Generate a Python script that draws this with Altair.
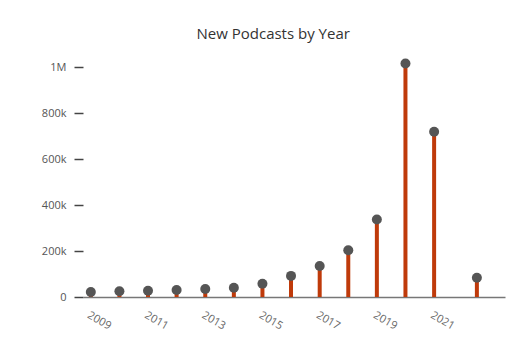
import altair as alt
import pandas as pd

dates = ["2009-01-01", "2010-01-01", "2011-01-01", "2012-01-01", "2013-01-01",
         "2014-01-01", "2015-01-01", "2016-01-01", "2017-01-01", "2018-01-01",
         "2019-01-01", "2020-01-01", "2021-01-01", "2022-07-01"]
new_podcasts = [22000, 25000, 27500, 30600, 35000, 40600, 58000, 92000,
                135000, 204000, 338000, 1017000, 720000, 84000]
y_ticks = [0, 200000, 400000, 600000, 800000, 1000000]
x_ticks = ["2009-01-01", "2011-01-01", "2013-01-01", "2015-01-01",
           "2017-01-01", "2019-01-01", "2021-01-01"]

df = pd.DataFrame({"date": dates, "count": new_podcasts})

FONT = "Open Sans"

x_tick_vals = [alt.DateTime(year=int(d[:4]), month=1, date=1) for d in x_ticks]

x = alt.X("date:T", title=None,
          scale=alt.Scale(domain=["2008-09-23", "2023-06-25"], nice=False),
          axis=alt.Axis(format="%Y", values=x_tick_vals,
                        labelAngle=30, labelAlign="left", labelBaseline="top",
                        ticks=False, labelPadding=12, labelColor="#666",
                        labelFontSize=11, labelFont=FONT, grid=False,
                        domainColor="#777", domainWidth=1.5))
y = alt.Y("count:Q", title=None,
          scale=alt.Scale(domain=[0, 1050000], nice=False),
          axis=alt.Axis(values=y_ticks, domain=False, grid=False,
                        labelExpr="datum.value >= 1000000 ? format(datum.value/1000000, 'd') + 'M' : datum.value > 0 ? format(datum.value/1000, 'd') + 'k' : '0'",
                        tickSize=9, tickColor="#444", tickWidth=1.5,
                        labelPadding=8, labelColor="#555", labelFontSize=11,
                        labelFont=FONT))

stems = alt.Chart(df).mark_rule(color="#bf3a0a", strokeWidth=4).encode(
    x=x, y=y, y2=alt.datum(0))
dots = alt.Chart(df).mark_point(filled=True, color="#555555", size=100,
                                opacity=1).encode(x=x, y=y)

chart = alt.layer(stems, dots).properties(
    width=422, height=241,
    background="white",
    title=alt.TitleParams("New Podcasts by Year", font=FONT, fontSize=15,
                          fontWeight="normal", color="#333",
                          anchor="middle", frame="bounds", offset=14),
    autosize=alt.AutoSizeParams(type="none"),
    padding={"left": 83, "top": 56, "right": 26, "bottom": 56},
).configure_view(stroke=None)

chart.save("out.html", embed_options={"renderer": "svg", "actions": False})
